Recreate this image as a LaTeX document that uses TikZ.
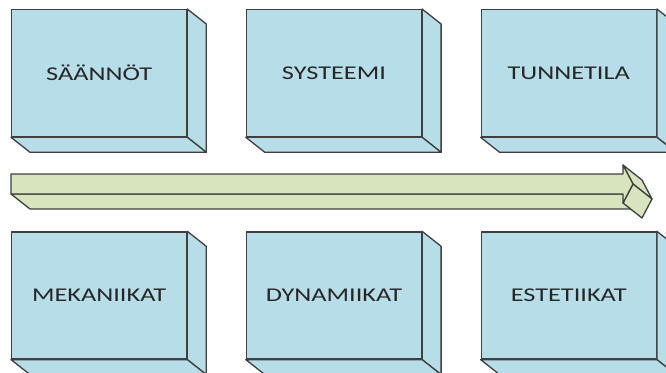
\documentclass[tikz,border=0pt]{standalone}
\usepackage{fontspec}
\newfontfamily\boxfont[FakeStretch=1.35]{Carlito}
\usetikzlibrary{positioning}
\definecolor{boxblue}{HTML}{B7DDE8}
\definecolor{bandgreen}{HTML}{D7E4BD}
\definecolor{edgegray}{HTML}{3F3F3F}

\begin{document}
\begin{tikzpicture}[x=1pt, y=-1pt, line join=round]
  \tikzstyle{block} = [rectangle, draw=edgegray, line width=1.3pt, fill=boxblue,
                       minimum width=175pt, minimum height=127pt, inner sep=0pt,
                       font=\boxfont\fontsize{19.5}{22}\selectfont, text=black!85]
  \tikzstyle{side} = [draw=edgegray, line width=1.3pt, fill=boxblue]
  \tikzstyle{band} = [draw=edgegray, line width=1.3pt, fill=bandgreen]
\useasboundingbox (0,0) rectangle (666,372);
\node[block, anchor=north west] (rules) at (11,9) {SÄÄNNÖT};
\node[block, right=58.5pt of rules] (system) {SYSTEEMI};
\node[block, right=58.5pt of system] (emotion) {TUNNETILA};
\node[block, below=94pt of rules] (mech) {MEKANIIKAT};
\node[block, right=58.5pt of mech] (dyn) {DYNAMIIKAT};
\node[block, right=58.5pt of dyn] (aest) {ESTETIIKAT};
% depth of the blocks
\foreach \n in {rules, system, emotion, mech, dyn, aest} {
  \draw[side] (\n.north east) -- ++(19,15) -- ([shift={(19,15)}]\n.south east) -- (\n.south east) -- cycle;
  \draw[side] (\n.south west) -- ++(19,15) -- ([shift={(19,15)}]\n.south east) -- (\n.south east) -- cycle;
}
% the long arrow
\coordinate (tailtop) at (11,174);
\coordinate (tailbot) at (11,194);
\coordinate (necktop) at (623,174);
\coordinate (neckbot) at (623,194);
\coordinate (barbtop) at (623,165);
\coordinate (barbbot) at (623,203);
\coordinate (tip) at (633,184);
\draw[band] (tailbot) -- (neckbot) -- ++(19,15) -- ([shift={(19,15)}]tailbot) -- cycle;
\draw[band] (barbtop) -- (tip) -- ++(19,15) -- ([shift={(19,15)}]barbtop) -- cycle;
\draw[band] (tip) -- (barbbot) -- ++(19,15) -- ([shift={(19,15)}]tip) -- cycle;
\draw[band] (tailtop) -- (necktop) -- (barbtop) -- (tip) -- (barbbot) -- (neckbot) -- (tailbot) -- cycle;
\end{tikzpicture}
\end{document}
